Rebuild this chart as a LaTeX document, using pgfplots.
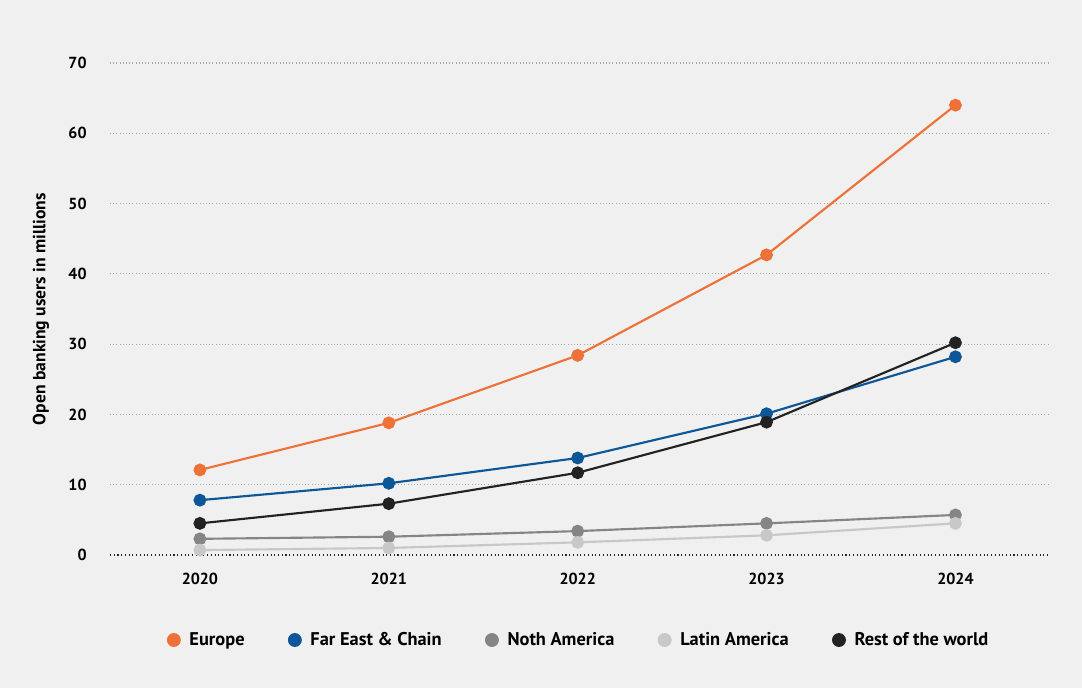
\documentclass[border=0pt]{standalone}
\usepackage{pgfplots}
\pgfplotsset{compat=1.18}
\usepackage{fontspec}
\setmainfont{PT Sans}
\definecolor{bg}{HTML}{F0F0F0}
\definecolor{europe}{HTML}{EE7138}
\definecolor{fareast}{HTML}{0D5697}
\definecolor{northam}{HTML}{858585}
\definecolor{latam}{HTML}{C8C8C8}
\definecolor{rest}{HTML}{222222}
\begin{document}
\begin{tikzpicture}[x=1pt,y=1pt]
\fill[bg] (0,0) rectangle (811.5,516);
\begin{axis}[
  at={(82.5pt,99.75pt)}, anchor=south west,
  scale only axis, width=703.5pt, height=369pt,
  xmin=2019.524, xmax=2024.49, ymin=0, ymax=70,
  xtick={2020,2021,2022,2023,2024},
  xticklabels={2020,2021,2022,2023,2024},
  ytick={10,20,30,40,50,60,70},
  extra y ticks={0},
  extra y tick style={grid style={black!85, dotted, line width=0.9pt}},
  ymajorgrids,
  grid style={gray!70, dotted, line width=0.8pt},
  axis line style={draw=none},
  major tick length=0pt,
  tick label style={font=\bfseries\fontsize{12}{14}\selectfont, text=black},
  /pgf/number format/assume math mode=true,
  yticklabel style={xshift=-14pt},
  xticklabel style={yshift=-10pt},
  ylabel={\bfseries Open banking users in millions},
  every axis y label/.style={at={(axis description cs:-0.0736,0.5)}, rotate=90, anchor=center,
    font=\fontsize{13.2}{15}\selectfont},
  clip=false,
  legend columns=5,
  legend style={at={(0.5,-0.1728)}, anchor=center, draw=none, fill=none,
    font=\bfseries\fontsize{13.8}{16}\selectfont,
    /tikz/every odd column/.append style={column sep=4.5pt},
    /tikz/every even column/.append style={column sep=30.5pt}},
  legend image code/.code={\fill[#1] (0pt,0pt) circle (4.4pt);},
  every axis plot/.append style={line width=1.6pt, mark=*, mark size=4pt},
]
\addplot[europe, mark options={fill=europe, draw=europe}] coordinates {(2020,12.1) (2021,18.8) (2022,28.4) (2023,42.7) (2024,64.0)};
\addlegendentry{Europe}
\addplot[fareast, mark options={fill=fareast, draw=fareast}] coordinates {(2020,7.8) (2021,10.2) (2022,13.8) (2023,20.1) (2024,28.2)};
\addlegendentry{Far East \& Chain}
\addplot[northam, mark options={fill=northam, draw=northam}] coordinates {(2020,2.3) (2021,2.6) (2022,3.4) (2023,4.5) (2024,5.7)};
\addlegendentry{Noth America}
\addplot[latam, mark options={fill=latam, draw=latam}] coordinates {(2020,0.7) (2021,1.0) (2022,1.8) (2023,2.8) (2024,4.5)};
\addlegendentry{Latin America}
\addplot[rest, mark options={fill=rest, draw=rest}] coordinates {(2020,4.5) (2021,7.3) (2022,11.7) (2023,18.9) (2024,30.2)};
\addlegendentry{Rest of the world}
\end{axis}
\end{tikzpicture}
\end{document}
